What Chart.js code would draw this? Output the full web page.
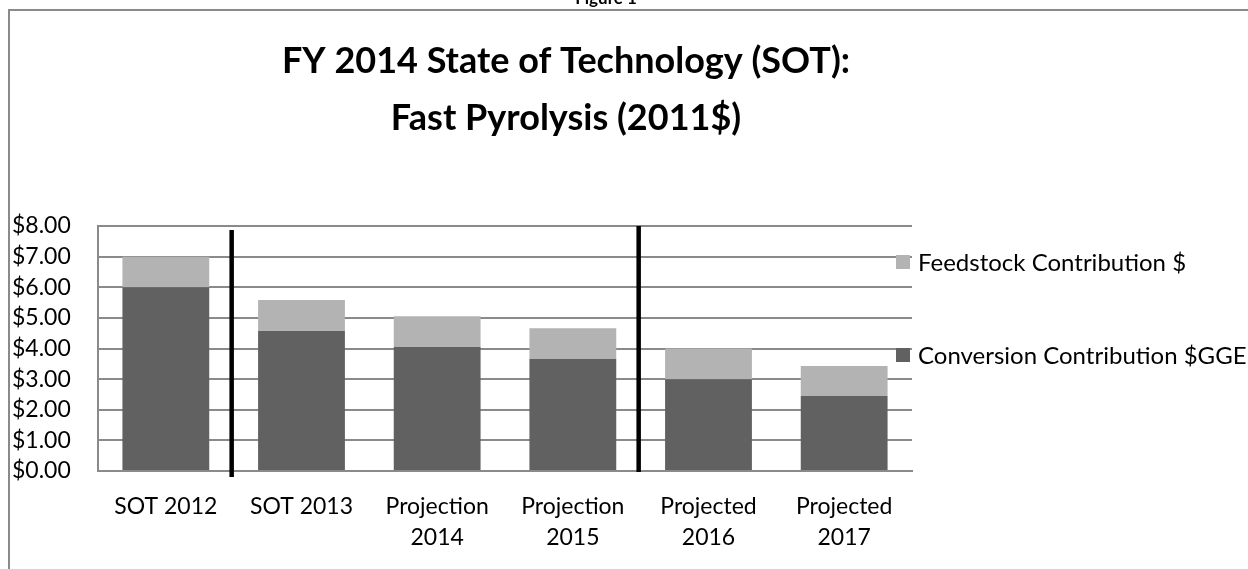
<!DOCTYPE html>
<html>
<head>
<meta charset="utf-8">
<title>FY 2014 State of Technology (SOT): Fast Pyrolysis (2011$)</title>
<script src="https://cdn.jsdelivr.net/npm/chart.js@4/dist/chart.umd.min.js"></script>
<style>
  html, body { margin: 0; padding: 0; background: #fff; }
  #wrap { width: 1248px; height: 569px; }
</style>
</head>
<body>
<div id="wrap"><canvas id="myChart" width="1248" height="569"></canvas></div>
<script>
// categories (multi-line labels as in the original)
const categories = [
    ['SOT 2012'],
    ['SOT 2013'],
    ['Projection', '2014'],
    ['Projection', '2015'],
    ['Projected', '2016'],
    ['Projected', '2017']
];

// $/GGE values
const conversionValues = [6.00, 4.57, 4.05, 3.66, 3.00, 2.45];
const feedstockValues  = [1.00, 1.01, 1.00, 1.00, 1.00, 0.98];

const seriesNames = ['Conversion Contribution $GGE', 'Feedstock Contribution $'];
const titleLines = ['FY 2014 State of Technology (SOT):', 'Fast Pyrolysis (2011$)'];
const figureLabel = 'Figure 1';
const yTicks = [0, 1, 2, 3, 4, 5, 6, 7, 8];

// separators sit between categories (index positions)
const separatorPositions = [0.5, 3.5];

const FONT = 'Lato, "Open Sans", sans-serif';

// border, title, separators and legend
const decorations = {
    id: 'decorations',
    afterDraw(chart) {
        const c = chart.ctx;
        const area = chart.chartArea;
        const x = chart.scales.x;

        c.save();
        // outer frame (continues past the window)
        c.strokeStyle = '#8a8a8a';
        c.lineWidth = 2;
        c.strokeRect(9, 10, 1400, 700);

        // figure caption, cut off at the top
        c.fillStyle = '#000';
        c.font = 'bold 17px ' + FONT;
        c.textAlign = 'center';
        c.textBaseline = 'alphabetic';
        c.fillText(figureLabel, 606, 4);

        // title
        c.font = 'bold 36px ' + FONT;
        titleLines.forEach((t, i) => c.fillText(t, 566, 73 + i * 57));

        // black separators
        c.strokeStyle = '#000';
        c.lineWidth = 4.5;
        separatorPositions.forEach((p, i) => {
            const px = x.getPixelForValue(p) - 2;
            c.beginPath();
            c.moveTo(px, area.top + (i === 0 ? 4 : 0));
            c.lineTo(px, area.bottom + (i === 0 ? 6 : 1));
            c.stroke();
        });

        // legend, feedstock on top
        c.font = '24px ' + FONT;
        c.textAlign = 'left';
        c.textBaseline = 'middle';
        const order = [1, 0];
        const rows = [262, 355];
        order.forEach((di, i) => {
            const ds = chart.data.datasets[di];
            c.fillStyle = ds.backgroundColor;
            c.fillRect(896, rows[i] - 7, 14, 14);
            c.fillStyle = '#000';
            c.fillText(ds.label, 918, rows[i] + 1);
        });
        c.restore();
    }
};

new Chart(document.getElementById('myChart'), {
    type: 'bar',
    data: {
        labels: categories,
        datasets: [
            {
                label: seriesNames[0],
                data: conversionValues,
                backgroundColor: '#616161',
                categoryPercentage: 1,
                barPercentage: 0.64
            },
            {
                label: seriesNames[1],
                data: feedstockValues,
                backgroundColor: '#b3b3b3',
                categoryPercentage: 1,
                barPercentage: 0.64
            }
        ]
    },
    options: {
        responsive: false,
        animation: false,
        layout: {
            padding: { left: 12, right: 336, top: 226, bottom: 0 }
        },
        scales: {
            x: {
                stacked: true,
                afterFit(scale) { scale.height = 569 - 471; },
                grid: { display: false, drawTicks: false },
                border: { display: true, color: '#8a8a8a', width: 2 },
                ticks: {
                    color: '#000',
                    font: { family: FONT, size: 23, lineHeight: 1.35 },
                    padding: 20,
                    maxRotation: 0,
                    autoSkip: false
                }
            },
            y: {
                stacked: true,
                min: 0,
                max: 8,
                afterFit(scale) { scale.width = 98 - 12; },
                afterBuildTicks(scale) { scale.ticks = yTicks.map(v => ({ value: v })); },
                grid: { color: '#8a8a8a', lineWidth: 2, drawTicks: false },
                border: { display: true, color: '#8a8a8a', width: 2 },
                ticks: {
                    color: '#000',
                    crossAlign: 'far',
                    padding: 8,
                    font: { family: FONT, size: 23 },
                    callback: v => '$' + Number(v).toFixed(2)
                }
            }
        },
        plugins: {
            legend: { display: false },
            title: { display: false },
            tooltip: { enabled: false }
        }
    },
    plugins: [decorations]
});
</script>
</body>
</html>
